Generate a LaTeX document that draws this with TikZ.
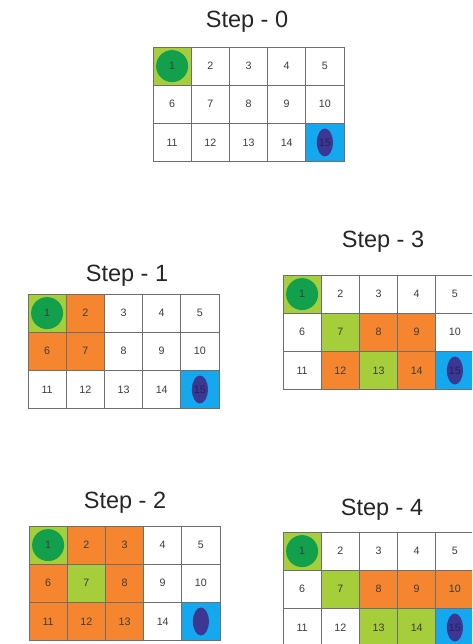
\documentclass[tikz,border=0pt]{standalone}
\usepackage{fontspec}
\setmainfont{Liberation Sans}
\definecolor{lg}{HTML}{A5CE3A}
\definecolor{dg}{HTML}{12A04C}
\definecolor{or}{HTML}{F5862F}
\definecolor{bl}{HTML}{14A9EE}
\definecolor{pu}{HTML}{3B3793}
\definecolor{wh}{HTML}{FFFFFF}
\definecolor{gridline}{HTML}{6E6E6E}
\definecolor{numtxt}{HTML}{3C3C3C}
\tikzset{
  cell/.style={draw=gridline, line width=0.7pt, minimum width=38.2pt, minimum height=38.2pt,
    inner sep=0pt, text=numtxt, font=\fontsize{10.7}{12}\selectfont},
  plain/.style={},
  start/.style={path picture={\fill[dg] (path picture bounding box.center) circle[radius=16pt];}},
  goal/.style={text=pu!60!black, path picture={\fill[pu] (path picture bounding box.center) ellipse[x radius=8pt, y radius=14pt];}},
  goalhidden/.style={goal, text=pu},
  title/.style={font=\fontsize{23.5}{26}\selectfont, text=black!85, inner sep=0pt, anchor=base}
}
\newcommand\stepgrid[4]{%
  \foreach \c/\m [count=\i] in {#4} {
    \pgfmathtruncatemacro\rr{(\i-1)/5}
    \pgfmathtruncatemacro\cc{mod(\i-1,5)}
    \node[cell, fill=\c, \m] (#1-\i) at ({#2+\cc*38.2+19.1},{#3+\rr*38.2+19.1}) {\i};
  }}
\begin{document}
\begin{tikzpicture}[x=1pt,y=-1pt]
\useasboundingbox[fill=white] (0,0) rectangle (472,644);
\clip (0,0) rectangle (472,644);
% titles
\node[title] (t0) at (247,28) {Step - 0};
\node[title] (t1) at (127,281) {Step - 1};
\node[title] (t3) at (383,247) {Step - 3};
\node[title] (t2) at (125,508) {Step - 2};
\node[title] (t4) at (382,515) {Step - 4};
% grids
\stepgrid{s0}{153}{47}{lg/start,wh/plain,wh/plain,wh/plain,wh/plain,
  wh/plain,wh/plain,wh/plain,wh/plain,wh/plain,
  wh/plain,wh/plain,wh/plain,wh/plain,bl/goal}
\stepgrid{s1}{28}{294}{lg/start,or/plain,wh/plain,wh/plain,wh/plain,
  or/plain,or/plain,wh/plain,wh/plain,wh/plain,
  wh/plain,wh/plain,wh/plain,wh/plain,bl/goal}
\stepgrid{s3}{283}{275}{lg/start,wh/plain,wh/plain,wh/plain,wh/plain,
  wh/plain,lg/plain,or/plain,or/plain,wh/plain,
  wh/plain,or/plain,lg/plain,or/plain,bl/goal}
\stepgrid{s2}{29}{526}{lg/start,or/plain,or/plain,wh/plain,wh/plain,
  or/plain,lg/plain,or/plain,wh/plain,wh/plain,
  or/plain,or/plain,or/plain,wh/plain,bl/goalhidden}
\stepgrid{s4}{283}{532}{lg/start,wh/plain,wh/plain,wh/plain,wh/plain,
  wh/plain,lg/plain,or/plain,or/plain,or/plain,
  wh/plain,wh/plain,lg/plain,lg/plain,bl/goal}
\end{tikzpicture}
\end{document}
